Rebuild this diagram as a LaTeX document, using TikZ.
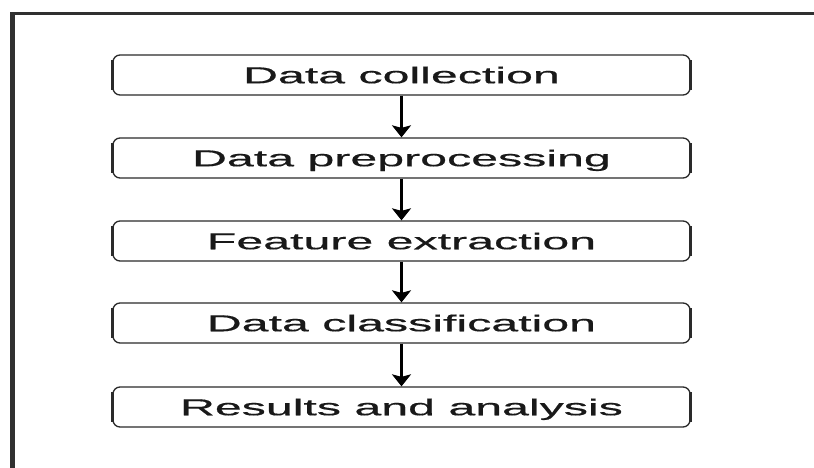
\documentclass[tikz,border=0pt]{standalone}
\usepackage{fontspec}
\setmainfont{Liberation Sans}
\usetikzlibrary{arrows.meta}
\definecolor{framegray}{HTML}{303030}
\definecolor{boxgray}{HTML}{2A2A2A}
\begin{document}
\begin{tikzpicture}[x=1pt,y=-1pt,
  stepbox/.style={draw=boxgray, line width=1.3pt, rounded corners=7pt,
    minimum width=577pt, minimum height=40pt, inner sep=0pt,
    text height=16.5pt, text depth=0pt,
    font=\fontsize{23}{23}\selectfont\addfontfeature{FakeBold=0.4}, text=black!90},
  sidebar/.style={draw=boxgray, line width=2.4pt},
  arr/.style={draw=black, line width=2.2pt, -{Stealth[length=12pt,width=19pt,inset=2.5pt]}},
  framel/.style={draw=framegray, line width=4.5pt},
  framet/.style={draw=framegray, line width=3pt}]
\useasboundingbox[fill=white] (0,0) rectangle (814,468);
\coordinate (fa) at (12.5,468);
\coordinate (fb) at (12.5,12.5);
\coordinate (fc) at (814,14);
\coordinate (fd) at (10.5,14);
\draw[framel] (fa) -- (fb);
\draw[framet] (fd) -- (fc);

\node[stepbox] (b1) at (401.5,75)  {\scalebox{2.1}[1]{Data collection}};
\node[stepbox] (b2) at (401.5,158) {\scalebox{2.1}[1]{Data preprocessing}};
\node[stepbox] (b3) at (401.5,241) {\scalebox{2.1}[1]{Feature extraction}};
\node[stepbox] (b4) at (401.5,323) {\scalebox{2.1}[1]{Data classification}};
\node[stepbox] (b5) at (401.5,407) {\scalebox{2.1}[1]{Results and analysis}};

\foreach \b in {b1,b2,b3,b4,b5}{
  \draw[sidebar] ([yshift=-6pt]\b.north west) -- ([yshift=6pt]\b.south west);
  \draw[sidebar] ([yshift=-6pt]\b.north east) -- ([yshift=6pt]\b.south east);
}

\draw[arr] (b1.south) -- (b2.north);
\draw[arr] (b2.south) -- (b3.north);
\draw[arr] (b3.south) -- (b4.north);
\draw[arr] (b4.south) -- (b5.north);
\end{tikzpicture}
\end{document}
